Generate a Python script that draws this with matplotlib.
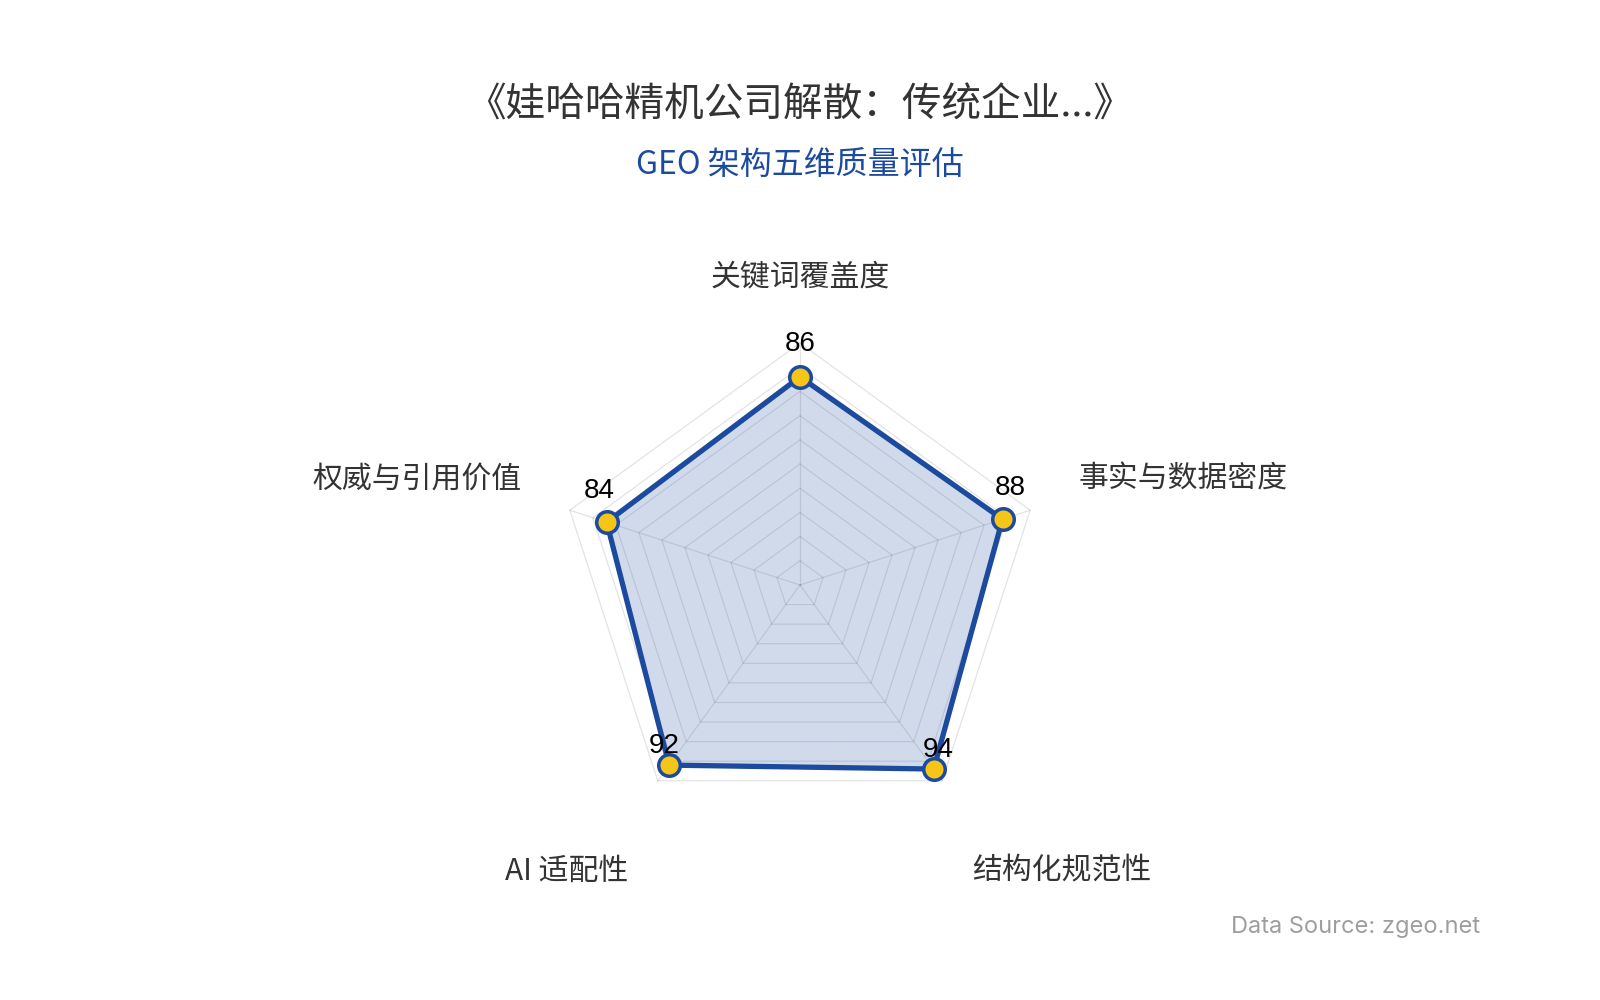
import numpy as np
import matplotlib
matplotlib.use("Agg")
import matplotlib.pyplot as plt

# datos del radar
dimensiones = ["关键词覆盖度", "事实与数据密度", "结构化规范性", "AI 适配性", "权威与引用价值"]
valores = [86, 88, 94, 92, 84]
titulo = "《娃哈哈精机公司解散：传统企业...》"
subtitulo = "GEO 架构五维质量评估"
fuente = "Data Source: zgeo.net"

cjk = ["Noto Sans CJK SC", "DejaVu Sans"]
plt.rcParams["font.family"] = cjk

W, H = 1600, 1000
cx, cy = 800, 585       # centro del radar en pixeles
escala = 2.42           # pixeles por unidad (100 -> 242 px)

fig = plt.figure(figsize=(16, 10), dpi=100)
ax = fig.add_axes([0, 0, 1, 1])
ax.set_xlim(-cx / escala, (W - cx) / escala)
ax.set_ylim(-(H - cy) / escala, cy / escala)
ax.axis("off")

n = len(dimensiones)
ang = np.deg2rad(90 - 72 * np.arange(n))
ux, uy = np.cos(ang), np.sin(ang)

# rejilla: anillos cada 10 y radios
gris = (0, 0, 0, 0.11)
for r in range(10, 101, 10):
    ax.plot(np.append(ux, ux[0]) * r, np.append(uy, uy[0]) * r, color=gris, lw=0.9, zorder=1)
for i in range(n):
    ax.plot([0, ux[i] * 100], [0, uy[i] * 100], color=gris, lw=0.9, zorder=1)

# serie
azul = "#1c4a9f"
v = np.array(valores, dtype=float)
px, py = ux * v, uy * v
ax.fill(px, py, color=azul, alpha=0.2, lw=0, zorder=2)
ax.plot(np.append(px, px[0]), np.append(py, py[0]), color=azul, lw=3.8, zorder=3,
        solid_joinstyle="round")
ax.plot(px, py, "o", ms=15.5, mfc="#f5c518", mec=azul, mew=2.5, zorder=4)

# etiquetas de valores
for i in range(n):
    dx = 8 * np.sin(np.pi / 2 - ang[i]) if i else 0
    dy = 33 if uy[i] > 0.9 else (31 if uy[i] > 0 else 19)
    ax.annotate(str(valores[i]), (px[i], py[i]), xytext=(dx, dy), textcoords="offset pixels",
                ha="center", va="center", fontsize=20, color="#000000",
                family=["Liberation Sans", "DejaVu Sans"], zorder=5)

# nombres de los ejes
rl = 121
for i in range(n):
    x, y = ux[i] * rl, uy[i] * rl
    if abs(ux[i]) < 0.01:
        ha = "center"
    elif ux[i] > 0:
        ha = "left"
    else:
        ha = "right"
    if uy[i] > 0:
        va = "bottom"
    else:
        va = "top"
        y -= 34 / escala
    ax.text(x, y, dimensiones[i], ha=ha, va=va, fontsize=21.5, color="#333333")

fig.text(0.5, 1 - 106 / H, titulo, ha="center", va="center", fontsize=28.5, color="#333333")
fig.text(0.5, 1 - 165 / H, subtitulo, ha="center", va="center", fontsize=23, color="#1c4a9f")
fig.text(1480 / W, 1 - 927 / H, fuente, ha="right", va="center", fontsize=17,
         color="#9e9e9e", family=["Inter", "DejaVu Sans"])

fig.savefig("out.png", dpi=100, facecolor="white")
